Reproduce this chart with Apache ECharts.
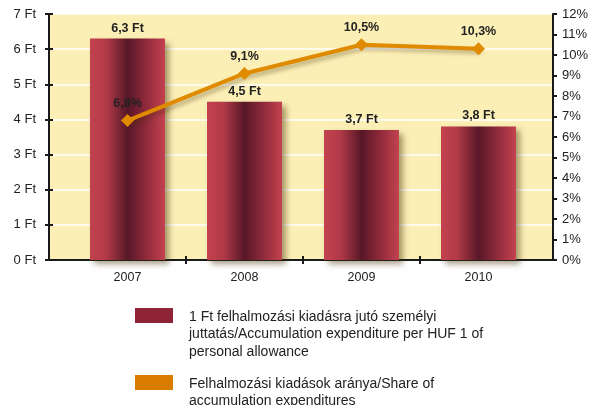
<!DOCTYPE html>
<html>
<head>
<meta charset="utf-8">
<script src="https://cdn.jsdelivr.net/npm/echarts@6/dist/echarts.min.js"></script>
<style>
  html, body { margin: 0; padding: 0; background: #fff; }
  #chart { width: 591px; height: 405px; }
</style>
</head>
<body>
<div id="chart"></div>
<script>
const years = ['2007', '2008', '2009', '2010']
const ftValues = [6.3, 4.5, 3.7, 3.8]
const pctValues = [6.8, 9.1, 10.5, 10.3]
const barName = '1 Ft felhalmozási kiadásra jutó személyi\njuttatás/Accumulation expenditure per HUF 1 of\npersonal allowance'
const lineName = 'Felhalmozási kiadások aránya/Share of\naccumulation expenditures'

const chart = echarts.init(document.getElementById('chart'))
const font = 'Liberation Sans, Arial, sans-serif'
const ink = '#1a1a1a'
const fmt = v => v.toFixed(1).replace('.', ',')

// legend icon: swatch at the top, invisible point at the bottom so text lines up with the swatch
const tallIcon = h => 'path://M0,0H38V15H0Z M0,' + h + 'L0,' + h

chart.setOption({
  animation: false,
  textStyle: { fontFamily: font },
  grid: [
    { left: 49, right: 34, top: 14, bottom: 145, show: true, backgroundColor: '#fcefb6', borderWidth: 0 },
    { left: 69, right: 54, top: 14, bottom: 145 },
  ],
  legend: [
    {
      left: 135, top: 308, padding: 0, itemWidth: 38, itemHeight: 52.5,
      textStyle: { fontSize: 14, color: '#222', lineHeight: 17.5, padding: [0, 0, 0, 11] },
      data: [{ name: barName, icon: tallIcon(52.5), itemStyle: { color: '#8e2436', shadowBlur: 0, shadowOffsetX: 0, shadowOffsetY: 0 } }],
    },
    {
      left: 135, top: 375, padding: 0, itemWidth: 38, itemHeight: 35,
      textStyle: { fontSize: 14, color: '#222', lineHeight: 17.5, padding: [0, 0, 0, 11] },
      data: [{ name: lineName, icon: tallIcon(35), itemStyle: { color: '#d97c00', borderWidth: 0, shadowBlur: 0, shadowOffsetX: 0, shadowOffsetY: 0 } }],
    },
  ],
  xAxis: [
    {
      gridIndex: 0, type: 'category', data: [''],
      axisLine: { onZero: false, lineStyle: { color: ink, width: 2 } },
      axisTick: { show: false }, axisLabel: { show: false },
    },
    {
      gridIndex: 1, type: 'category', data: years, position: 'bottom',
      axisLine: { show: false, onZero: false }, axisTick: { show: false },
      axisLabel: { color: '#222', fontSize: 12.5, margin: 11 },
    },
    {
      // tick marks between the years, crossing the axis line
      gridIndex: 1, type: 'value', min: 0, max: years.length, interval: 1, position: 'bottom', offset: -4,
      axisLine: { show: false, onZero: false }, axisLabel: { show: false }, splitLine: { show: false },
      axisTick: { show: true, length: 8, customValues: [1, 2, 3], lineStyle: { color: ink, width: 2 } },
    },
  ],
  yAxis: [
    {
      gridIndex: 0, type: 'value', position: 'left', min: 0, max: 7, interval: 1,
      axisLine: { show: true, onZero: false, lineStyle: { color: ink, width: 2 } },
      axisTick: { show: true, length: 4, lineStyle: { color: ink, width: 2 } },
      axisLabel: { formatter: '{value} Ft', color: '#222', fontSize: 13, margin: 13 },
      splitLine: { show: true, lineStyle: { color: '#ffffff', width: 1.5 } },
    },
    {
      gridIndex: 0, type: 'value', position: 'right', min: 0, max: 12, interval: 1,
      axisLine: { show: true, onZero: false, lineStyle: { color: ink, width: 2 } },
      axisTick: { show: true, length: 4, lineStyle: { color: ink, width: 2 } },
      axisLabel: { formatter: '{value}%', color: '#222', fontSize: 13, margin: 9 },
      splitLine: { show: false },
    },
    {
      gridIndex: 1, type: 'value', position: 'left', offset: 20, min: 0, max: 7, interval: 1,
      axisLine: { show: false, onZero: false }, axisLabel: { show: false }, splitLine: { show: false },
      axisTick: { show: true, inside: true, length: 4, lineStyle: { color: ink, width: 2 } },
    },
    {
      gridIndex: 1, type: 'value', position: 'right', offset: 20, min: 0, max: 12, interval: 1,
      axisLine: { show: false, onZero: false }, axisLabel: { show: false }, splitLine: { show: false },
      axisTick: { show: true, inside: true, length: 4, lineStyle: { color: ink, width: 2 } },
    },
  ],
  series: [
    {
      name: barName, type: 'bar', xAxisIndex: 1, yAxisIndex: 2,
      data: ftValues, barWidth: 75,
      itemStyle: {
        color: new echarts.graphic.LinearGradient(0, 0, 1, 0, [
          { offset: 0, color: '#c4424f' },
          { offset: 0.22, color: '#b13a48' },
          { offset: 0.5, color: '#581727' },
          { offset: 0.75, color: '#8f2a3b' },
          { offset: 1, color: '#c4424f' },
        ]),
        shadowColor: 'rgba(60,40,0,0.45)', shadowBlur: 6, shadowOffsetX: 4, shadowOffsetY: 4,
      },
      label: {
        show: true, position: 'top', distance: 4,
        formatter: p => fmt(p.value) + ' Ft',
        color: '#222', fontWeight: 'bold', fontSize: 12.5,
      },
    },
    {
      name: lineName, type: 'line', xAxisIndex: 1, yAxisIndex: 3,
      data: pctValues, z: 5,
      symbol: 'diamond', symbolSize: 13,
      lineStyle: { color: '#e08a00', width: 4, shadowColor: 'rgba(60,40,0,0.35)', shadowBlur: 4, shadowOffsetX: 3, shadowOffsetY: 3 },
      itemStyle: { color: '#e08a00' },
      label: {
        show: true, position: 'top', distance: 4,
        formatter: p => fmt(p.value) + '%',
        color: '#222', fontWeight: 'bold', fontSize: 12.5,
      },
    },
  ],
})
</script>
</body>
</html>
